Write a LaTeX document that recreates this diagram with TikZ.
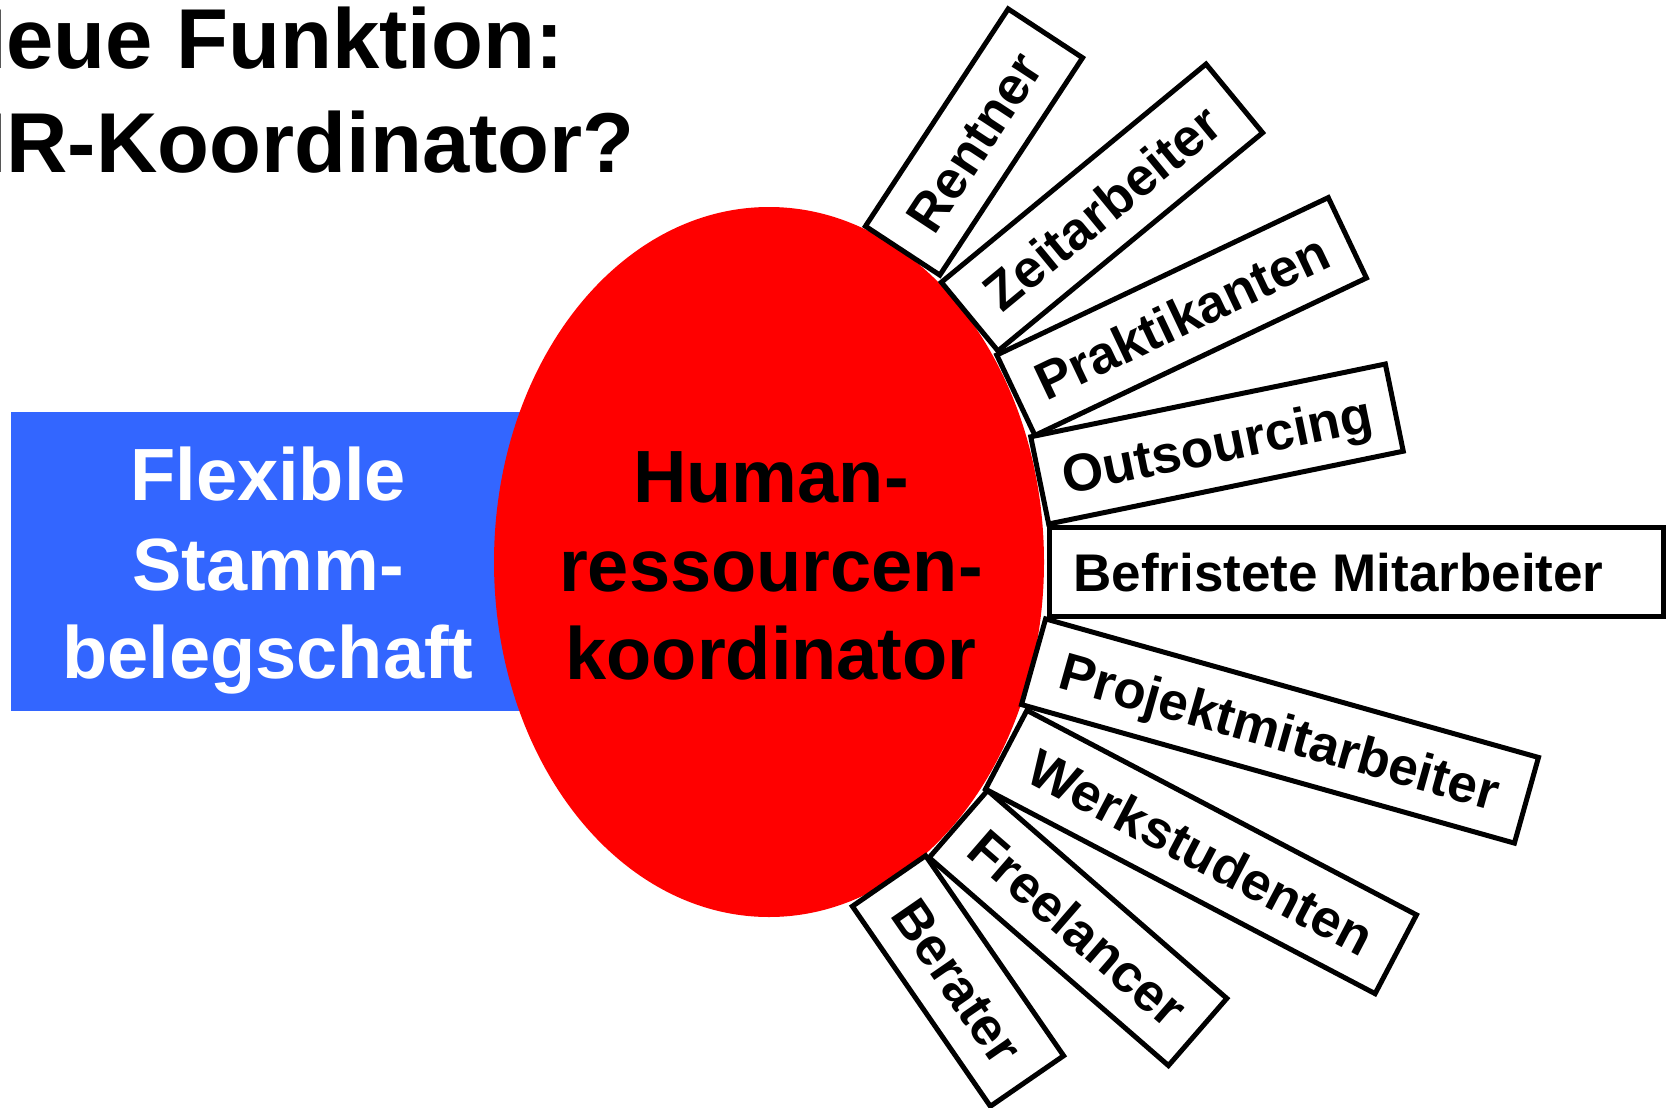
\documentclass[tikz,border=0pt]{standalone}
\usepackage{fontspec}
\setmainfont{Liberation Sans}
\usetikzlibrary{shapes.geometric}
\definecolor{flexblue}{RGB}{51,102,255}
\definecolor{hrred}{RGB}{255,0,0}
\begin{document}
\begin{tikzpicture}[x=1pt,y=-1pt,
  titletext/.style={anchor=base west, inner sep=0pt, font=\fontsize{85}{100}\selectfont\bfseries},
  bigtext/.style={anchor=base, inner sep=0pt, font=\fontsize{74}{89}\selectfont\bfseries},
  tag/.style={draw=black, line width=5pt, fill=white, minimum height=89pt, inner sep=0pt,
    text height=38pt, text depth=0pt, font=\fontsize{53}{60}\selectfont\bfseries},
]
\useasboundingbox (0,0) rectangle (1668,1108);
\clip (0,0) rectangle (1668,1108);
% title
\node[titletext] (t1) at (-55,69) {Neue Funktion:};
\node[titletext] (t2) at (-55,172) {HR-Koordinator?};
% blue block
\node[fill=flexblue, minimum width=600pt, minimum height=299pt, inner sep=0pt, anchor=north west] (flex) at (11,412) {};
% ellipse
\node[ellipse, fill=hrred, minimum width=550pt, minimum height=710pt, inner sep=0pt] (hr) at (769,562) {};
% tags
\node[tag, rotate=56.7, minimum width=260pt] (rentner) at (974,142) {Rentner};
\node[tag, rotate=39.5, minimum width=343pt] (zeit) at (1102,207.5) {Zeitarbeiter};
\node[tag, rotate=25.4, minimum width=367pt] (prakt) at (1181.6,316.5) {Praktikanten};
\node[tag, rotate=11.6, minimum width=362pt] (outs) at (1217,444) {Outsourcing};
\node[tag, minimum width=614pt] (befr) at (1356,572) {\makebox[565pt][l]{Befristete Mitarbeiter}};
\node[tag, rotate=-15.7, minimum width=512pt] (proj) at (1280,731) {Projektmitarbeiter};
\node[tag, rotate=-27.7, minimum width=440pt] (werk) at (1201,852) {Werkstudenten};
\node[tag, rotate=-41, minimum width=317pt] (free) at (1078,928) {Freelancer};
\node[tag, rotate=-55.4, minimum width=243pt] (berater) at (958,981) {Berater};
% texts
\node[bigtext, text=white] (f1) at (268,500) {Flexible};
\node[bigtext, text=white] (f2) at (268,590.5) {Stamm-};
\node[bigtext, text=white] (f3) at (268,678) {belegschaft};
\node[bigtext] (h1) at (771,502) {Human-};
\node[bigtext] (h2) at (771,591.5) {ressourcen-};
\node[bigtext] (h3) at (771,679) {koordinator};
\end{tikzpicture}
\end{document}
